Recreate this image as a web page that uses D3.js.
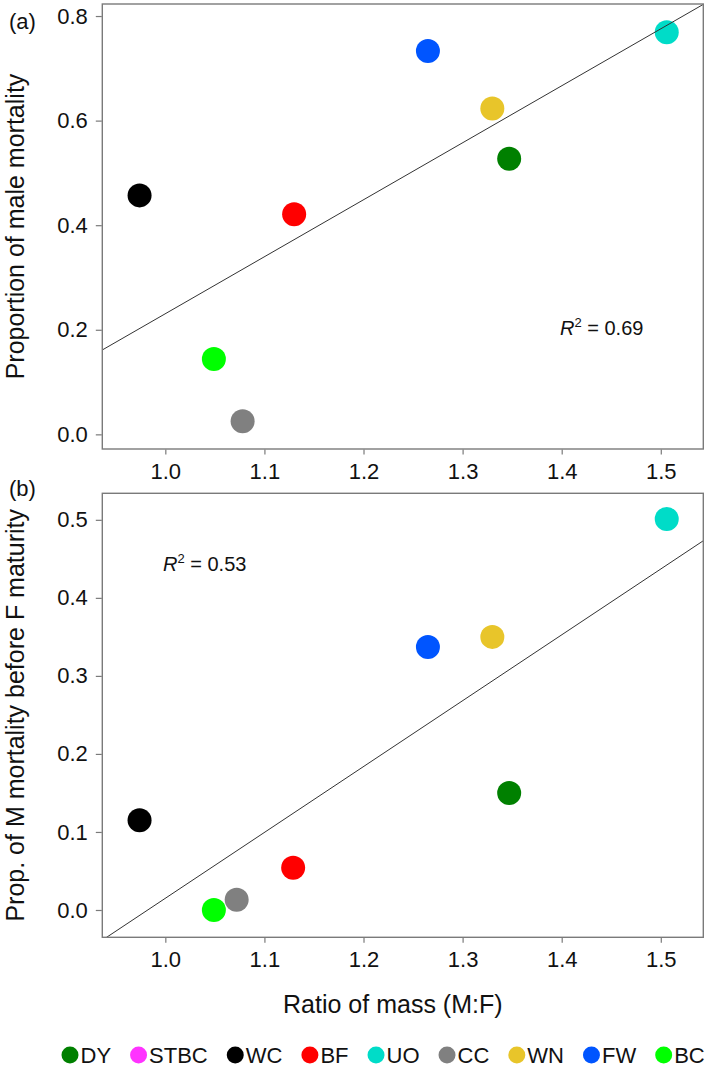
<!DOCTYPE html>
<html>
<head>
<meta charset="utf-8">
<script src="https://cdn.jsdelivr.net/npm/d3@7"></script>
<style>
  body { margin: 0; background: #fff; }
  svg { font-family: 'Liberation Sans', Arial, sans-serif; }
  .box { fill: none; stroke: #7a7a7a; stroke-width: 1.4; }
  .tick line { stroke: #7a7a7a; stroke-width: 1.2; }
  .tick text { font-size: 22px; fill: #111; }
  .fit { stroke: #333; stroke-width: 1; }
</style>
</head>
<body>
<svg width="709" height="1069"></svg>
<script>
// species order as in the legend
const species = ['DY', 'STBC', 'WC', 'BF', 'UO', 'CC', 'WN', 'FW', 'BC'];
const colours = ['#008000', '#ff33ff', '#000000', '#ff0000', '#00dcc8', '#808080', '#e8c52a', '#0055ff', '#00ff00'];

// panel (a): ratio of mass vs proportion of male mortality (STBC not plotted)
const massA = [1.347, null, 0.974, 1.130, 1.506, 1.078, 1.330, 1.265, 1.049];
const maleMort = [0.527, null, 0.457, 0.421, 0.769, 0.025, 0.623, 0.733, 0.144];

// panel (b): ratio of mass vs prop. of M mortality before F maturity
const massB = [1.347, null, 0.974, 1.129, 1.506, 1.072, 1.330, 1.265, 1.049];
const preMatMort = [0.150, null, 0.115, 0.054, 0.501, 0.013, 0.350, 0.337, 0.000];

// fitted lines
const fitA = { slope: 1.0897, intercept: -0.859, r2: '0.69' };
const fitB = { slope: 0.844, intercept: -0.829, r2: '0.53' };

const xTicks = [1.0, 1.1, 1.2, 1.3, 1.4, 1.5];
const yTicksA = [0.0, 0.2, 0.4, 0.6, 0.8];
const yTicksB = [0.0, 0.1, 0.2, 0.3, 0.4, 0.5];

const svg = d3.select('svg');
svg.append('rect').attr('width', 709).attr('height', 1069).attr('fill', '#fff');

const left = 102.3, right = 703.3;
const x = d3.scaleLinear().domain([0.9364, 1.5429]).range([left, right]);

const panel = (opts) => {
  const { top, bottom, yDomain, yTicks, xs, ys, fit, label, labelY, yTitle, r2Pos, id } = opts;
  const y = d3.scaleLinear().domain(yDomain).range([bottom, top]);
  const g = svg.append('g');

  g.append('clipPath').attr('id', id)
    .append('rect')
    .attr('x', left).attr('y', top)
    .attr('width', right - left).attr('height', bottom - top);

  // points
  const pts = species.map((s, i) => ({ s, c: colours[i], x: xs[i], y: ys[i] }))
    .filter(d => d.x != null);
  g.append('g')
    .selectAll('circle')
    .data(pts)
    .enter()
    .append('circle')
    .attr('cx', d => x(d.x))
    .attr('cy', d => y(d.y))
    .attr('r', 12)
    .attr('fill', d => d.c);

  // regression line
  const xd = x.domain();
  g.append('line')
    .attr('class', 'fit')
    .attr('clip-path', `url(#${id})`)
    .attr('x1', x(xd[0])).attr('y1', y(fit.intercept + fit.slope * xd[0]))
    .attr('x2', x(xd[1])).attr('y2', y(fit.intercept + fit.slope * xd[1]));

  // axes
  g.append('g')
    .attr('transform', `translate(${left - 0.5},0)`)
    .call(d3.axisLeft(y).tickValues(yTicks).tickFormat(d3.format('.1f')).tickSize(6).tickPadding(8))
    .call(a => a.select('.domain').remove());
  g.append('g')
    .attr('transform', `translate(0,${bottom + 0.5})`)
    .call(d3.axisBottom(x).tickValues(xTicks).tickFormat(d3.format('.1f')).tickSize(5).tickPadding(9))
    .call(a => a.select('.domain').remove());

  g.append('rect')
    .attr('class', 'box')
    .attr('x', left).attr('y', top)
    .attr('width', right - left).attr('height', bottom - top);

  // R^2 label
  const t = g.append('text')
    .attr('x', r2Pos[0]).attr('y', r2Pos[1])
    .attr('font-size', 20)
    .attr('fill', '#111');
  t.append('tspan').attr('font-style', 'italic').text('R');
  t.append('tspan').attr('font-size', 13).attr('dy', -8).text('2');
  t.append('tspan').attr('dy', 8).text(` = ${fit.r2}`);

  // panel letter
  g.append('text')
    .attr('x', 9).attr('y', labelY)
    .attr('font-size', 22)
    .attr('fill', '#111')
    .text(label);

  // y title
  g.append('text')
    .attr('transform', `translate(15,${(top + bottom) / 2}) rotate(-90)`)
    .attr('text-anchor', 'middle')
    .attr('dominant-baseline', 'central')
    .attr('font-size', 25)
    .attr('fill', '#111')
    .text(yTitle);
};

panel({
  id: 'clip-a', top: 4, bottom: 449,
  yDomain: [-0.028, 0.823], yTicks: yTicksA,
  xs: massA, ys: maleMort, fit: fitA,
  label: '(a)', labelY: 29, yTitle: 'Proportion of male mortality',
  r2Pos: [560, 335]
});

panel({
  id: 'clip-b', top: 493.3, bottom: 937.3,
  yDomain: [-0.035, 0.534], yTicks: yTicksB,
  xs: massB, ys: preMatMort, fit: fitB,
  label: '(b)', labelY: 496, yTitle: 'Prop. of M mortality before F maturity',
  r2Pos: [163, 571]
});

// x title
svg.append('text')
  .attr('x', (left + right) / 2 - 10)
  .attr('y', 1013)
  .attr('text-anchor', 'middle')
  .attr('font-size', 25)
  .attr('fill', '#111')
  .text('Ratio of mass (M:F)');

// legend
const legend = svg.append('g').attr('transform', 'translate(0,1055)');
let cursor = 61.5;
species.forEach((s, i) => {
  legend.append('circle')
    .attr('cx', cursor + 8.5).attr('cy', 0).attr('r', 8.5)
    .attr('fill', colours[i]);
  const txt = legend.append('text')
    .attr('x', cursor + 19).attr('y', 0)
    .attr('dy', '0.36em')
    .attr('font-size', 22)
    .attr('fill', '#111')
    .text(s);
  cursor += 19 + txt.node().getComputedTextLength() + 19;
});
</script>
</body>
</html>
